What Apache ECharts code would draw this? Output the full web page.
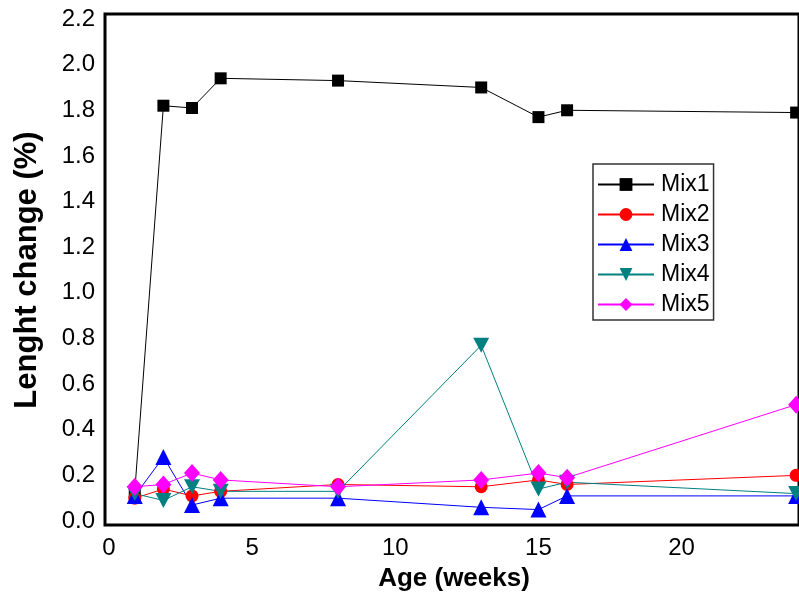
<!DOCTYPE html>
<html>
<head>
<meta charset="utf-8">
<script src="https://cdn.jsdelivr.net/npm/echarts@6/dist/echarts.min.js"></script>
<style>
  html, body { margin: 0; padding: 0; background: #fff; }
  #chart { width: 799px; height: 597px; }
</style>
</head>
<body>
<div id="chart"></div>
<script>
// ages in weeks
const ages = [0.9, 1.9, 2.9, 3.9, 8, 13, 15, 16, 24];

const mix1 = [0.13, 1.82, 1.81, 1.94, 1.93, 1.90, 1.77, 1.80, 1.79];
const mix2 = [0.10, 0.14, 0.11, 0.13, 0.16, 0.15, 0.18, 0.16, 0.20];
const mix3 = [0.11, 0.28, 0.07, 0.10, 0.10, 0.06, 0.05, 0.11, 0.11];
const mix4 = [0.12, 0.09, 0.15, 0.13, 0.13, 0.77, 0.14, 0.17, 0.12];
const mix5 = [0.15, 0.16, 0.21, 0.18, 0.15, 0.18, 0.21, 0.19, 0.51];

const seriesNames = ["Mix1", "Mix2", "Mix3", "Mix4", "Mix5"];
const seriesColors = ["#000000", "#ff0000", "#0000ff", "#008080", "#ff00ff"];

const chart = echarts.init(document.getElementById("chart"));

function pairs(vals) {
  return ages.map((a, i) => [a, vals[i]]);
}

function makeSeries(name, vals, color, symbol, size) {
  return {
    name: name,
    type: "line",
    xAxisIndex: 1,
    yAxisIndex: 1,
    data: pairs(vals),
    symbol: symbol,
    symbolSize: size,
    showAllSymbol: true,
    clip: false,
    lineStyle: { color: color, width: 1 },
    itemStyle: { color: color },
    emphasis: { disabled: true },
  };
}

const font = "Liberation Sans, Arial, sans-serif";

const option = {
  backgroundColor: "#fff",
  animation: false,
  grid: [
    // frame only
    { left: 105, top: 14, right: -20, bottom: 72, show: true, borderColor: "#000", borderWidth: 3, backgroundColor: "transparent" },
    // data area
    { left: 109, top: 19, width: 693, height: 502 },
  ],
  legend: {
    orient: "vertical",
    left: 593,
    top: 164,
    padding: [9, 4, 4, 4],
    itemWidth: 56,
    itemHeight: 16,
    itemGap: 7,
    borderColor: "#333",
    borderWidth: 1.5,
    backgroundColor: "#fff",
    textStyle: { fontFamily: font, fontSize: 23, color: "#000", padding: [0, 0, 0, 2] },
    data: seriesNames,
  },
  xAxis: [
    { gridIndex: 0, type: "value", show: false, min: 0, max: 1 },
    {
      gridIndex: 1,
      type: "value",
      min: 0,
      max: 24.1,
      interval: 5,
      name: "Age (weeks)",
      nameLocation: "middle",
      nameGap: 45,
      nameTextStyle: { fontFamily: font, fontSize: 26, fontWeight: "bold", color: "#000" },
      axisLine: { show: false },
      axisTick: { show: false },
      splitLine: { show: false },
      axisLabel: { fontFamily: font, fontSize: 24, color: "#000", margin: 15, showMaxLabel: false },
    },
  ],
  yAxis: [
    { gridIndex: 0, type: "value", show: false, min: 0, max: 1 },
    {
      gridIndex: 1,
      type: "value",
      min: 0,
      max: 2.2,
      interval: 0.2,
      name: "Lenght change (%)",
      nameLocation: "middle",
      nameGap: 66,
      nameTextStyle: { fontFamily: font, fontSize: 31, fontWeight: "bold", color: "#000" },
      axisLine: { show: false },
      axisTick: { show: false },
      splitLine: { show: false },
      axisLabel: {
        fontFamily: font,
        fontSize: 24,
        color: "#000",
        margin: 14,
        formatter: (v) => v.toFixed(1),
      },
    },
  ],
  series: [
    makeSeries("Mix1", mix1, seriesColors[0], "rect", 12),
    makeSeries("Mix2", mix2, seriesColors[1], "circle", 13),
    makeSeries("Mix3", mix3, seriesColors[2], "triangle", 16),
    makeSeries("Mix4", mix4, seriesColors[3], "path://M0,0 L10,0 L5,9 Z", [16, 15]),
    makeSeries("Mix5", mix5, seriesColors[4], "diamond", [16, 18]),
  ],
};

chart.setOption(option);
</script>
</body>
</html>
